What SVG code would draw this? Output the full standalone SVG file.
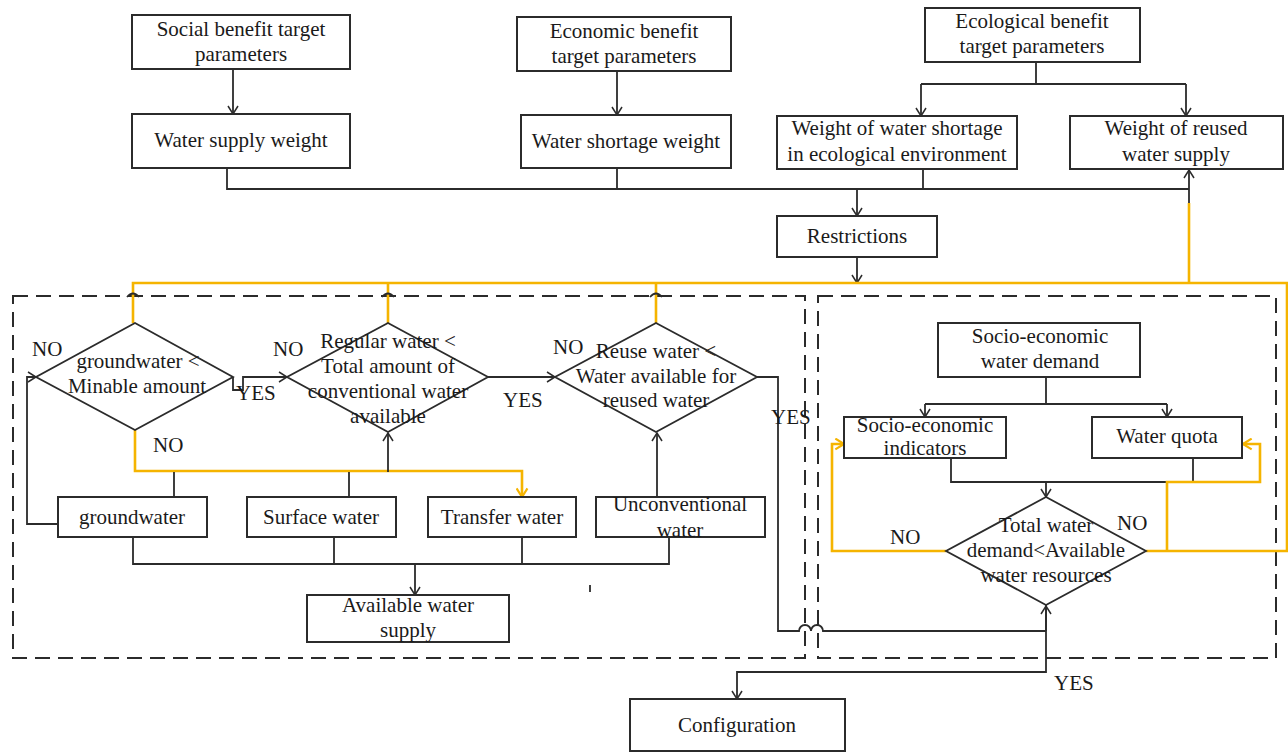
<svg xmlns="http://www.w3.org/2000/svg" width="1288" height="753" viewBox="0 0 1288 753">
<defs>
<style>
.b{fill:#fff;stroke:#2b2b2b;stroke-width:2}
.d{fill:none;stroke:#2b2b2b;stroke-width:1.8}
.t{font-family:"Liberation Serif","Times New Roman",serif;font-size:21px;fill:#1a1a1a;text-anchor:middle}
.l{font-family:"Liberation Serif","Times New Roman",serif;font-size:21px;fill:#1a1a1a}
.k{fill:none;stroke:#2b2b2b;stroke-width:1.8}
.y{fill:none;stroke:#F5B400;stroke-width:2.6}
.dash{fill:none;stroke:#2b2b2b;stroke-width:2;stroke-dasharray:15 8}
</style>
<marker id="ak" viewBox="0 0 10 12" refX="9" refY="6" markerWidth="10" markerHeight="12" markerUnits="userSpaceOnUse" orient="auto"><path d="M1,1 L9,6 L1,11" fill="none" stroke="#2b2b2b" stroke-width="1.5"/></marker>
<marker id="ay" viewBox="0 0 10 12" refX="9" refY="6" markerWidth="11" markerHeight="13" markerUnits="userSpaceOnUse" orient="auto"><path d="M1,1 L9,6 L1,11" fill="none" stroke="#F5B400" stroke-width="2"/></marker>
</defs>
<rect width="1288" height="753" fill="#fff"/>

<g id="regions">
<rect x="13" y="296" width="792" height="362" class="dash"/>
<rect x="818" y="296" width="458" height="362" class="dash"/>
</g>

<g id="connectors">
<!-- top hierarchy -->
<path class="k" d="M233,69 V114" marker-end="url(#ak)"/>
<path class="k" d="M617,71 V115" marker-end="url(#ak)"/>
<path class="k" d="M1036,62 V84 M921,84 H1186"/>
<path class="k" d="M921,84 V116" marker-end="url(#ak)"/>
<path class="k" d="M1186,84 V116" marker-end="url(#ak)"/>
<path class="k" d="M227,168 V189 H1189 M617,168 V189 M923,169 V189"/>
<path class="k" d="M857,189 V216" marker-end="url(#ak)"/>
<path class="k" d="M857,257 V283" marker-end="url(#ak)"/>
<path class="k" d="M1189,203 V170" marker-end="url(#ak)"/>
<!-- yellow feedback loop -->
<path class="y" d="M1189,283 V203"/>
<path class="y" d="M133,323 V283 H1287 V551 H1146"/>
<path class="y" d="M388,283 V323 M656,283 V323"/>
<!-- hops on dashed top line -->
<path class="k" d="M127,297 q6,-7 12,0 M382,297 q6,-7 12,0 M650,297 q6,-7 12,0" stroke-width="1.4"/>
<!-- left region -->
<path class="k" d="M58,524 H27 V377 H36" marker-end="url(#ak)"/>
<path class="k" d="M233,377 V390 H243 V377 H287" marker-end="url(#ak)"/>
<path class="k" d="M488,377 H555" marker-end="url(#ak)"/>
<path class="y" d="M135,430 V471 H522 V497" marker-end="url(#ay)"/>
<path class="k" d="M174,497 V472 M349,497 V472"/>
<path class="k" d="M388,472 V433" marker-end="url(#ak)"/>
<path class="k" d="M657,497 V433" marker-end="url(#ak)"/>
<path class="k" d="M133,537 V564 H669 V537 M334,537 V564 M522,537 V564"/>
<path class="k" d="M415,564 V595" marker-end="url(#ak)"/>
<path class="k" d="M590,585 V592" stroke-width="1.5"/>
<path class="k" d="M757,377 H778 V631 H799 a6,6 0 0 1 12,0 a6,6 0 0 1 12,0 H1046"/>
<path class="k" d="M1046,631 V606" marker-end="url(#ak)"/>
<path class="k" d="M1046,605 V672 H737 V699" marker-end="url(#ak)"/>
<!-- right region -->
<path class="k" d="M1046,377 V404 M925,404 H1167"/>
<path class="k" d="M925,404 V417" marker-end="url(#ak)"/>
<path class="k" d="M1167,404 V417" marker-end="url(#ak)"/>
<path class="k" d="M951,458 V482 H1193 V458"/>
<path class="k" d="M1046,482 V497" marker-end="url(#ak)"/>
<path class="y" d="M946,551 H832 V444 H844" marker-end="url(#ay)"/>
<path class="y" d="M1167,551 V482 H1260 V444 H1243" marker-end="url(#ay)"/>
</g>

<g id="social-target"><rect class="b" x="132" y="15" width="218" height="54"/><text class="t" x="241" y="36">Social benefit target</text><text class="t" x="241" y="61">parameters</text></g>
<g id="economic-target"><rect class="b" x="517" y="17" width="214" height="54"/><text class="t" x="624" y="38">Economic benefit</text><text class="t" x="624" y="63">target parameters</text></g>
<g id="ecological-target"><rect class="b" x="925" y="8" width="215" height="54"/><text class="t" x="1032" y="28">Ecological benefit</text><text class="t" x="1032" y="53">target parameters</text></g>
<g id="water-supply-weight"><rect class="b" x="132" y="114" width="218" height="54"/><text class="t" x="241" y="147">Water supply weight</text></g>
<g id="water-shortage-weight"><rect class="b" x="521" y="115" width="210" height="53"/><text class="t" x="626" y="148">Water shortage weight</text></g>
<g id="eco-shortage-weight"><rect class="b" x="777" y="116" width="240" height="53"/><text class="t" x="897" y="135">Weight of water shortage</text><text class="t" x="897" y="161">in ecological environment</text></g>
<g id="reused-weight"><rect class="b" x="1070" y="116" width="213" height="53"/><text class="t" x="1176" y="135">Weight of reused</text><text class="t" x="1176" y="161">water supply</text></g>
<g id="restrictions"><rect class="b" x="777" y="216" width="160" height="41"/><text class="t" x="857" y="243">Restrictions</text></g>

<g id="d-groundwater"><polygon class="d" points="135,323 233,377 135,430 36,377"/><text class="t" x="138" y="368">groundwater &lt;</text><text class="t" x="137" y="393">Minable amount</text></g>
<g id="d-regular"><polygon class="d" points="388,323 488,377 388,432 287,377"/><text class="t" x="388" y="348">Regular water &lt;</text><text class="t" x="388" y="373">Total amount of</text><text class="t" x="388" y="398">conventional water</text><text class="t" x="388" y="423">available</text></g>
<g id="d-reuse"><polygon class="d" points="656,323 757,377 656,432 555,377"/><text class="t" x="656" y="358">Reuse water &lt;</text><text class="t" x="656" y="383">Water available for</text><text class="t" x="656" y="407">reused water</text></g>

<g id="groundwater"><rect class="b" x="58" y="497" width="149" height="40"/><text class="t" x="132" y="524">groundwater</text></g>
<g id="surface-water"><rect class="b" x="247" y="497" width="149" height="40"/><text class="t" x="321" y="524">Surface water</text></g>
<g id="transfer-water"><rect class="b" x="428" y="497" width="148" height="40"/><text class="t" x="502" y="524">Transfer water</text></g>
<g id="unconventional-water"><rect class="b" x="596" y="497" width="169" height="40"/><text class="t" x="680" y="511">Unconventional</text><text class="t" x="680" y="537">water</text></g>
<g id="available-supply"><rect class="b" x="307" y="595" width="202" height="47"/><text class="t" x="408" y="612">Available water</text><text class="t" x="408" y="637">supply</text></g>

<g id="socio-demand"><rect class="b" x="938" y="323" width="202" height="54"/><text class="t" x="1040" y="343">Socio-economic</text><text class="t" x="1040" y="368">water demand</text></g>
<g id="socio-indicators"><rect class="b" x="844" y="417" width="162" height="41"/><text class="t" x="925" y="432">Socio-economic</text><text class="t" x="925" y="455">indicators</text></g>
<g id="water-quota"><rect class="b" x="1092" y="417" width="150" height="41"/><text class="t" x="1167" y="443">Water quota</text></g>
<g id="d-total"><polygon class="d" points="1046,497 1146,551 1046,605 946,551"/><text class="t" x="1046" y="532">Total water</text><text class="t" x="1046" y="557">demand&lt;Available</text><text class="t" x="1046" y="582">water resources</text></g>
<g id="configuration"><rect class="b" x="630" y="699" width="215" height="52"/><text class="t" x="737" y="732">Configuration</text></g>

<g id="labels">
<text class="l" x="32" y="356">NO</text>
<text class="l" x="273" y="356">NO</text>
<text class="l" x="236" y="400">YES</text>
<text class="l" x="153" y="452">NO</text>
<text class="l" x="503" y="407">YES</text>
<text class="l" x="553" y="354">NO</text>
<text class="l" x="771" y="424">YES</text>
<text class="l" x="890" y="544">NO</text>
<text class="l" x="1117" y="530">NO</text>
<text class="l" x="1054" y="690">YES</text>
</g>
</svg>
